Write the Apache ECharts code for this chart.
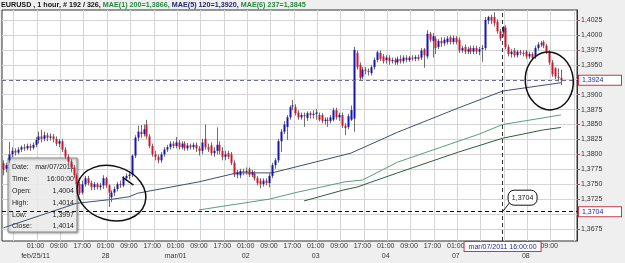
<!DOCTYPE html>
<html>
<head>
<meta charset="utf-8">
<script src="https://cdn.jsdelivr.net/npm/echarts@6/dist/echarts.min.js"></script>
<style>
	html, body { margin: 0; padding: 0; background: #efefef; }
	#chart { width: 625px; height: 263px; }
</style>
</head>
<body>
<div id="chart"></div>
<script>
// EURUSD 1 hour, feb/24 13:00 .. mar/08 12:00
const days = ['feb/24/2011', 'feb/25/2011', 'feb/28/2011', 'mar/01/2011', 'mar/02/2011', 'mar/03/2011', 'mar/04/2011', 'mar/07/2011', 'mar/08/2011'];
const dayTicks = ['feb/24/11', 'feb/25/11', '28', 'mar/01', '02', '03', '04', '07', '08'];
const firstHour = 13;
const slotCount = 197;

// bars per day, each row [open, high, low, close]
const feb24 = [
	[1.3785, 1.3790, 1.3765, 1.3774], [1.3776, 1.3786, 1.3770, 1.3782], [1.3790, 1.3821, 1.3786, 1.3800],
	[1.3800, 1.3812, 1.3795, 1.3806], [1.3806, 1.3810, 1.3798, 1.3803], [1.3803, 1.3812, 1.3800, 1.3808],
	[1.3808, 1.3815, 1.3804, 1.3812], [1.3812, 1.3817, 1.3806, 1.3810], [1.3810, 1.3818, 1.3807, 1.3814],
	[1.3814, 1.3818, 1.3806, 1.3811], [1.3811, 1.3820, 1.3808, 1.3816],
];
const feb25 = [
	[1.3816, 1.3829, 1.3812, 1.3824], [1.3824, 1.3838, 1.3818, 1.3830], [1.3830, 1.3841, 1.3820, 1.3826],
	[1.3826, 1.3838, 1.3822, 1.3832], [1.3832, 1.3836, 1.3822, 1.3828], [1.3828, 1.3835, 1.3823, 1.3830],
	[1.3830, 1.3834, 1.3820, 1.3826], [1.3826, 1.3830, 1.3814, 1.3818], [1.3818, 1.3826, 1.3812, 1.3822],
	[1.3822, 1.3826, 1.3804, 1.3808], [1.3808, 1.3812, 1.3792, 1.3796], [1.3796, 1.3800, 1.3782, 1.3788],
	[1.3788, 1.3792, 1.3770, 1.3778], [1.3778, 1.3782, 1.3760, 1.3765], [1.3765, 1.3768, 1.3745, 1.3750],
	[1.3750, 1.3754, 1.3732, 1.3735], [1.3736, 1.3756, 1.3733, 1.3750], [1.3750, 1.3764, 1.3746, 1.3760],
	[1.3760, 1.3764, 1.3748, 1.3752], [1.3752, 1.3756, 1.3740, 1.3745], [1.3745, 1.3754, 1.3740, 1.3750],
	[1.3750, 1.3753, 1.3741, 1.3745], [1.3745, 1.3752, 1.3740, 1.3748], [1.3748, 1.3765, 1.3742, 1.3760],
];
const feb28 = [
	[1.3760, 1.3762, 1.3744, 1.3748], [1.3748, 1.3750, 1.3712, 1.3736], [1.3728, 1.3740, 1.3720, 1.3736],
	[1.3736, 1.3746, 1.3730, 1.3742], [1.3742, 1.3754, 1.3738, 1.3750], [1.3750, 1.3756, 1.3744, 1.3748],
	[1.3748, 1.3764, 1.3745, 1.3760], [1.3760, 1.3768, 1.3756, 1.3764], [1.3764, 1.3772, 1.3758, 1.3766],
	[1.3766, 1.3800, 1.3762, 1.3798], [1.3798, 1.3832, 1.3794, 1.3828], [1.3828, 1.3848, 1.3822, 1.3838],
	[1.3838, 1.3849, 1.3828, 1.3834], [1.3834, 1.3850, 1.3830, 1.3842], [1.3850, 1.3858, 1.3826, 1.3830],
	[1.3830, 1.3834, 1.3810, 1.3814], [1.3814, 1.3818, 1.3796, 1.3800], [1.3800, 1.3806, 1.3790, 1.3796],
	[1.3796, 1.3800, 1.3785, 1.3790], [1.3790, 1.3804, 1.3786, 1.3800], [1.3800, 1.3812, 1.3796, 1.3808],
	[1.3808, 1.3816, 1.3804, 1.3812], [1.3812, 1.3822, 1.3808, 1.3818], [1.3818, 1.3822, 1.3810, 1.3814],
];
const mar01 = [
	[1.3814, 1.3829, 1.3810, 1.3820], [1.3820, 1.3824, 1.3808, 1.3812], [1.3812, 1.3822, 1.3808, 1.3818],
	[1.3818, 1.3822, 1.3806, 1.3810], [1.3810, 1.3819, 1.3806, 1.3815], [1.3815, 1.3818, 1.3808, 1.3812],
	[1.3812, 1.3820, 1.3808, 1.3816], [1.3816, 1.3820, 1.3804, 1.3810], [1.3810, 1.3814, 1.3798, 1.3806],
	[1.3806, 1.3826, 1.3800, 1.3820], [1.3826, 1.3850, 1.3808, 1.3812], [1.3812, 1.3818, 1.3804, 1.3808],
	[1.3815, 1.3820, 1.3798, 1.3802], [1.3802, 1.3812, 1.3796, 1.3806], [1.3806, 1.3845, 1.3800, 1.3816],
	[1.3816, 1.3822, 1.3800, 1.3806], [1.3806, 1.3812, 1.3790, 1.3796], [1.3796, 1.3806, 1.3790, 1.3800],
	[1.3802, 1.3806, 1.3792, 1.3796], [1.3800, 1.3804, 1.3782, 1.3786], [1.3786, 1.3790, 1.3762, 1.3766],
	[1.3766, 1.3774, 1.3760, 1.3770], [1.3765, 1.3776, 1.3760, 1.3772], [1.3772, 1.3776, 1.3765, 1.3770],
];
const mar02 = [
	[1.3770, 1.3778, 1.3766, 1.3772], [1.3775, 1.3778, 1.3762, 1.3766], [1.3766, 1.3774, 1.3762, 1.3770],
	[1.3768, 1.3772, 1.3756, 1.3760], [1.3760, 1.3764, 1.3748, 1.3752], [1.3756, 1.3760, 1.3743, 1.3750],
	[1.3750, 1.3760, 1.3746, 1.3756], [1.3756, 1.3760, 1.3748, 1.3752], [1.3752, 1.3768, 1.3745, 1.3764],
	[1.3764, 1.3786, 1.3760, 1.3782], [1.3782, 1.3794, 1.3776, 1.3790], [1.3790, 1.3826, 1.3786, 1.3822],
	[1.3822, 1.3842, 1.3804, 1.3838], [1.3838, 1.3856, 1.3834, 1.3850], [1.3846, 1.3866, 1.3824, 1.3862],
	[1.3862, 1.3882, 1.3858, 1.3879], [1.3880, 1.3891, 1.3874, 1.3882], [1.3879, 1.3884, 1.3865, 1.3869],
	[1.3870, 1.3874, 1.3858, 1.3862], [1.3862, 1.3870, 1.3858, 1.3866], [1.3866, 1.3870, 1.3846, 1.3864],
	[1.3861, 1.3872, 1.3856, 1.3869], [1.3869, 1.3872, 1.3860, 1.3866], [1.3866, 1.3874, 1.3860, 1.3868],
];
const mar03 = [
	[1.3868, 1.3876, 1.3858, 1.3870], [1.3866, 1.3870, 1.3855, 1.3858], [1.3866, 1.3869, 1.3852, 1.3856],
	[1.3856, 1.3862, 1.3850, 1.3858], [1.3858, 1.3862, 1.3846, 1.3856], [1.3856, 1.3866, 1.3852, 1.3862],
	[1.3858, 1.3878, 1.3855, 1.3874], [1.3874, 1.3878, 1.3858, 1.3862], [1.3862, 1.3870, 1.3856, 1.3866],
	[1.3866, 1.3870, 1.3844, 1.3848], [1.3848, 1.3852, 1.3832, 1.3844], [1.3846, 1.3868, 1.3842, 1.3864],
	[1.3858, 1.3882, 1.3856, 1.3874], [1.3860, 1.3980, 1.3838, 1.3975], [1.3970, 1.3974, 1.3942, 1.3946],
	[1.3950, 1.3954, 1.3924, 1.3928], [1.3930, 1.3946, 1.3926, 1.3942], [1.3942, 1.3946, 1.3934, 1.3940],
	[1.3940, 1.3944, 1.3932, 1.3938], [1.3936, 1.3950, 1.3932, 1.3946], [1.3946, 1.3962, 1.3942, 1.3958],
	[1.3958, 1.3974, 1.3954, 1.3971], [1.3970, 1.3974, 1.3956, 1.3960], [1.3964, 1.3968, 1.3952, 1.3956],
];
const mar04 = [
	[1.3958, 1.3966, 1.3952, 1.3962], [1.3962, 1.3966, 1.3950, 1.3956], [1.3956, 1.3962, 1.3952, 1.3958],
	[1.3958, 1.3962, 1.3950, 1.3954], [1.3954, 1.3964, 1.3950, 1.3960], [1.3960, 1.3966, 1.3952, 1.3956],
	[1.3956, 1.3966, 1.3952, 1.3962], [1.3962, 1.3966, 1.3954, 1.3958], [1.3958, 1.3965, 1.3955, 1.3962],
	[1.3962, 1.3966, 1.3957, 1.3960], [1.3960, 1.3966, 1.3956, 1.3963], [1.3963, 1.3967, 1.3957, 1.3960],
	[1.3962, 1.3978, 1.3958, 1.3974], [1.3976, 1.3978, 1.3945, 1.3966], [1.3964, 1.4008, 1.3960, 1.4002],
	[1.4002, 1.4005, 1.3988, 1.3992], [1.3990, 1.4003, 1.3962, 1.3998], [1.3994, 1.3998, 1.3968, 1.3978],
	[1.3980, 1.3993, 1.3976, 1.3990], [1.3990, 1.3996, 1.3980, 1.3986], [1.3986, 1.3996, 1.3982, 1.3992],
	[1.3988, 1.3998, 1.3984, 1.3994], [1.3996, 1.3999, 1.3984, 1.3988], [1.3988, 1.3999, 1.3984, 1.3995],
];
const mar07 = [
	[1.3995, 1.3998, 1.3984, 1.3988], [1.3992, 1.3996, 1.3970, 1.3974], [1.3974, 1.3982, 1.3970, 1.3978],
	[1.3980, 1.3984, 1.3968, 1.3972], [1.3972, 1.3980, 1.3968, 1.3976], [1.3978, 1.3982, 1.3968, 1.3972],
	[1.3972, 1.3982, 1.3968, 1.3978], [1.3978, 1.3982, 1.3968, 1.3972], [1.3972, 1.3980, 1.3966, 1.3976],
	[1.3976, 1.3983, 1.3955, 1.3978], [1.3978, 1.4030, 1.3974, 1.4025], [1.4024, 1.4032, 1.4018, 1.4030],
	[1.4030, 1.4034, 1.4018, 1.4024], [1.4030, 1.4038, 1.4014, 1.4020], [1.4022, 1.4026, 1.4002, 1.4006],
	[1.4006, 1.4010, 1.3990, 1.3994], [1.4004, 1.4014, 1.3997, 1.4014], [1.4012, 1.4016, 1.3976, 1.3980],
	[1.3980, 1.3984, 1.3964, 1.3968], [1.3968, 1.3976, 1.3962, 1.3972], [1.3974, 1.3978, 1.3962, 1.3966],
	[1.3966, 1.3975, 1.3962, 1.3972], [1.3972, 1.3975, 1.3966, 1.3970], [1.3970, 1.3974, 1.3964, 1.3968],
];
const mar08 = [
	[1.3972, 1.3975, 1.3960, 1.3964], [1.3964, 1.3972, 1.3960, 1.3968], [1.3968, 1.3971, 1.3958, 1.3962],
	[1.3964, 1.3982, 1.3960, 1.3978], [1.3978, 1.3988, 1.3974, 1.3984], [1.3984, 1.3990, 1.3980, 1.3986],
	[1.3988, 1.3991, 1.3978, 1.3982], [1.3982, 1.3985, 1.3968, 1.3972], [1.3972, 1.3975, 1.3950, 1.3954],
	[1.3954, 1.3958, 1.3930, 1.3934], [1.3944, 1.3946, 1.3926, 1.3930], [1.3930, 1.3944, 1.3922, 1.3928],
	[1.3928, 1.3942, 1.3916, 1.3924],
];

// moving averages: [bar index, value]
const ma120 = [[0, 1.3677], [25, 1.3718], [36, 1.3724], [43, 1.3729], [46, 1.3735], [67, 1.3754], [80, 1.3769],
	[92, 1.3769], [119, 1.3802], [135, 1.3837], [156, 1.3878], [171, 1.3906], [191, 1.3920]];
const ma200 = [[67, 1.3707], [91, 1.3725], [101, 1.3737], [117, 1.3754], [123, 1.3757], [135, 1.3787],
	[163, 1.3834], [171, 1.3850], [191, 1.3866]];
const ma237 = [[103, 1.3722], [117, 1.3741], [121, 1.3745], [135, 1.3769], [156, 1.3804], [171, 1.3827],
	[185, 1.3841], [191, 1.3845]];

const yTicks = [1.3675, 1.3700, 1.3725, 1.3750, 1.3775, 1.3800, 1.3825, 1.3850, 1.3875, 1.3900, 1.3925, 1.3950, 1.3975, 1.4000, 1.4025];
const lastLevel = 1.3924;
const crossLevel = 1.3704;
const crossBar = 171;

const bars = [].concat(feb24, feb25, feb28, mar01, mar02, mar03, mar04, mar07, mar08);
const candleData = bars.map((b, i) => [i, b[0], b[1], b[2], b[3]]);

const hourOf = i => (i + firstHour) % 24;
const dayOf = i => Math.floor((i + firstHour) / 24);
const pad = n => (n < 10 ? '0' : '') + n;
const categories = [];
for (let i = 0; i < slotCount; i++) {
	categories.push(days[dayOf(i)] + ' ' + pad(hourOf(i)) + ':00:00');
}
const fmt = v => v.toFixed(4).replace('.', ',');
const FONT = 'Liberation Sans';

const UP = '#1414b8';
const DOWN = '#d4142c';

function renderCandle(params, api) {
	const i = api.value(0);
	const o = api.value(1), h = api.value(2), l = api.value(3), c = api.value(4);
	const pO = api.coord([i, o]);
	const pC = api.coord([i, c]);
	const pH = api.coord([i, h]);
	const pL = api.coord([i, l]);
	const r = Math.round(pO[0]);
	const top = Math.min(pO[1], pC[1]);
	const hgt = Math.max(Math.abs(pO[1] - pC[1]), 1);
	return {
		type: 'group',
		children: [
			{ type: 'line', shape: { x1: r + 0.5, y1: pH[1], x2: r + 0.5, y2: pL[1] }, style: { stroke: '#6e6e6e', lineWidth: 1 } },
			{ type: 'rect', shape: { x: r - 0.5, y: top, width: 2, height: hgt }, style: { fill: c >= o ? UP : DOWN } },
		],
	};
}

const boxLabel = {
	show: true,
	fontFamily: FONT,
	fontSize: 7,
	color: '#2424a8',
	backgroundColor: '#fff',
	borderColor: '#c23a4a',
	borderWidth: 1,
	padding: [1, 3, 0, 3],
	lineHeight: 8,
};

const chart = echarts.init(document.getElementById('chart'));
chart.setOption({
	animation: false,
	backgroundColor: '#efefef',
	textStyle: { fontFamily: FONT },
	title: {
		left: 1,
		top: 0,
		padding: 0,
		text: '{k|EURUSD , 1 hour, # 192 / 326, }{g|MAE(1) 200=' + fmt(ma200[ma200.length - 1][1]) + ', }{b|MAE(5) 120=' +
			fmt(ma120[ma120.length - 1][1]) + ', }{g|MAE(6) 237=' + fmt(ma237[ma237.length - 1][1]) + '}',
		textStyle: {
			rich: {
				k: { fontFamily: FONT, fontSize: 7.2, color: '#111', lineHeight: 10 },
				g: { fontFamily: FONT, fontSize: 7.2, color: '#1f8a3c', lineHeight: 10 },
				b: { fontFamily: FONT, fontSize: 7.2, color: '#1c2a6a', lineHeight: 10 },
			},
		},
	},
	grid: {
		left: 2,
		right: 48,
		top: 10,
		bottom: 22,
		show: true,
		backgroundColor: '#fff',
		borderColor: '#333',
		borderWidth: 1,
	},
	xAxis: {
		type: 'category',
		data: categories,
		boundaryGap: true,
		axisLine: { show: false },
		axisTick: { show: false },
		axisLabel: {
			interval: i => hourOf(i) % 8 === 1 && i < bars.length,
			formatter: (v, i) => {
				const h = hourOf(i);
				const s = pad(h) + ':00';
				return h === 1 ? s + '\n' + dayTicks[dayOf(i)] : s;
			},
			fontFamily: FONT,
			fontSize: 7,
			color: '#333',
			lineHeight: 10,
			margin: 0,
			padding: [0, 6, 0, 0],
		},
		splitLine: {
			show: true,
			interval: i => hourOf(i) % 8 === 1,
			lineStyle: { color: '#d4d4d4', width: 1 },
		},
	},
	yAxis: {
		type: 'value',
		position: 'right',
		min: 1.365494,
		max: 1.404174,
		axisLine: { show: true, lineStyle: { color: '#333' } },
		axisTick: { show: true, length: 3, customValues: yTicks, lineStyle: { color: '#b04a4a' } },
		axisLabel: {
			customValues: yTicks,
			formatter: v => fmt(v),
			fontFamily: FONT,
			fontSize: 7,
			color: '#333',
			margin: 4,
		},
		splitLine: { show: true, lineStyle: { color: '#d4d4d4', width: 1 } },
	},
	series: [
		{
			name: 'EURUSD',
			type: 'custom',
			renderItem: renderCandle,
			data: candleData,
			encode: { x: 0, y: [1, 2, 3, 4] },
			z: 3,
		},
		{
			name: 'MAE(5) 120',
			type: 'line',
			data: ma120,
			symbol: 'none',
			lineStyle: { color: '#405070', width: 1 },
			z: 2,
			markLine: {
				silent: true,
				symbol: ['none', 'none'],
				precision: 4,
				animation: false,
				data: [
					{
						yAxis: lastLevel,
						lineStyle: { color: '#6c6c9c', type: [4, 3], width: 1 },
						label: Object.assign({}, boxLabel, { position: 'end', distance: 2, width: 36, formatter: fmt(lastLevel) }),
					},
					{
						yAxis: crossLevel,
						lineStyle: { color: '#111', type: [4, 3], width: 1 },
						label: Object.assign({}, boxLabel, { position: 'end', distance: 2, width: 36, formatter: fmt(crossLevel) }),
					},
					{
						xAxis: categories[crossBar],
						lineStyle: { color: '#333', type: [4, 3], width: 1 },
						label: Object.assign({}, boxLabel, { position: 'start', distance: 1, padding: [1, 4, 0, 4], formatter: categories[crossBar] }),
					},
				],
			},
		},
		{
			name: 'MAE(1) 200',
			type: 'line',
			data: ma200,
			symbol: 'none',
			lineStyle: { color: '#5a9c80', width: 1 },
			z: 2,
		},
		{
			name: 'MAE(6) 237',
			type: 'line',
			data: ma237,
			symbol: 'none',
			lineStyle: { color: '#2c5e3e', width: 1 },
			z: 2,
		},
	],
});

// overlays: data box, callout, hand drawn circles
const hover = bars[crossBar];
const rows = [
	['Date:', days[dayOf(crossBar)]],
	['Time:', pad(hourOf(crossBar)) + ':00:00'],
	['Open:', fmt(hover[0])],
	['High:', fmt(hover[1])],
	['Low:', fmt(hover[2])],
	['Close:', fmt(hover[3])],
];
const boxChildren = [
	{ type: 'rect', shape: { x: 0, y: 0, width: 69, height: 74 }, style: { fill: 'rgba(244,244,244,0.88)', stroke: '#8c8c8c', lineWidth: 1, shadowColor: 'rgba(0,0,0,0.35)', shadowBlur: 2, shadowOffsetX: 1, shadowOffsetY: 1 } },
];
rows.forEach((r, k) => {
	const y = 9 + k * 11.9;
	boxChildren.push({ type: 'text', x: 4, y: y, style: { text: r[0], fontFamily: FONT, fontSize: 7, fill: '#222', verticalAlign: 'middle' } });
	boxChildren.push({ type: 'text', x: 66, y: y, style: { text: r[1], fontFamily: FONT, fontSize: 7, fill: '#222', align: 'right', verticalAlign: 'middle' } });
});

const p = chart.convertToPixel({ gridIndex: 0 }, [crossBar, crossLevel]);
const c1 = chart.convertToPixel({ gridIndex: 0 }, [37, 1.3735]);
const c2 = chart.convertToPixel({ gridIndex: 0 }, [187, 1.3923]);
const pen = { stroke: '#111', lineWidth: 1.5, fill: null };

chart.setOption({
	graphic: [
		{ type: 'group', x: 8, y: 158, z: 50, children: boxChildren },
		{ type: 'line', z: 40, shape: { x1: p[0], y1: p[1], x2: p[0] + 7, y2: p[1] - 9 }, style: { stroke: '#111', lineWidth: 1 } },
		{ type: 'rect', z: 41, shape: { x: p[0] + 5.5, y: p[1] - 21.5, width: 29, height: 15, r: 6 }, style: { fill: '#fff', stroke: '#111', lineWidth: 1 } },
		{ type: 'text', z: 42, x: p[0] + 20, y: p[1] - 14, style: { text: fmt(crossLevel), fontFamily: FONT, fontSize: 7, fill: '#111', align: 'center', verticalAlign: 'middle' } },
		{ type: 'ellipse', z: 45, x: c1[0], y: c1[1], rotation: -0.3, shape: { cx: 0, cy: 0, rx: 35, ry: 27 }, style: pen },
		{ type: 'line', z: 45, shape: { x1: c1[0] + 11, y1: c1[1] - 16, x2: c1[0] + 22, y2: c1[1] - 8 }, style: { stroke: '#111', lineWidth: 1.4 } },
		{ type: 'ellipse', z: 45, x: c2[0], y: c2[1], rotation: 0.1, shape: { cx: 0, cy: 0, rx: 24, ry: 29 }, style: pen },
	],
});
</script>
</body>
</html>
